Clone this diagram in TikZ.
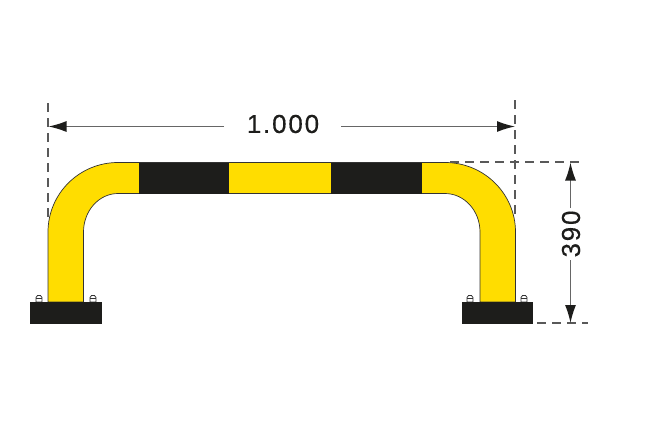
\documentclass[tikz,border=0pt]{standalone}
\usepackage{fontspec}
\setmainfont[LetterSpace=7,FakeBold=0.35]{Liberation Sans}
\usetikzlibrary{arrows.meta}
\definecolor{ty}{HTML}{FFDD00}
\definecolor{tk}{HTML}{1D1D1B}
\tikzset{
 halfdim/.style={draw=black!60,line width=1.3pt,-{Latex[length=18pt,width=11pt,color=tk]}},
 guide/.style={draw=black!65,line width=1.3pt,dash pattern=on 9pt off 6pt},
 tube/.style={fill=ty,draw=black!80,line width=.7pt},
 band/.style={fill=tk,draw=none},
 base/.style={fill=tk,draw=none},
 bolt/.style={fill=white,draw=black!80,line width=.8pt},
 lab/.style={font=\fontsize{26}{26}\selectfont,text=tk,inner sep=0pt}
}
\begin{document}
\begin{tikzpicture}[x=1pt,y=-1pt]
\useasboundingbox (0,0) rectangle (670,445);
\fill[white] (0,0) rectangle (670,445);
% tube
\path[tube] (48,302) -- (48,232) arc[start angle=180,end angle=270,x radius=70,y radius=69.5] -- (445,162.5)
 arc[start angle=270,end angle=360,x radius=70.5,y radius=69.5] -- (515.5,302) -- (480,302) -- (480,232)
 arc[start angle=0,end angle=-90,x radius=35,y radius=38.5] -- (118,193.5)
 arc[start angle=-90,end angle=-180,x radius=34.5,y radius=38.5] -- (83.5,302) -- cycle;
\path[band] (138.5,162.5) rectangle (229,193.5);
\path[band] (331,162.5) rectangle (422,193.5);
% bolts
\foreach \x in {39,93,470,524}{
 \path[bolt] (\x-3,302) -- (\x-3,297.5) -- (\x-1.5,295.5) -- (\x+1.5,295.5) -- (\x+3,297.5) -- (\x+3,302) -- cycle;
 \draw[black!80,line width=.7pt] (\x-3,298.5) -- (\x+3,298.5);
}
\path[base] (30,302) rectangle (102,323.5);
\path[base] (461.5,302) rectangle (533,323.5);
% guides
\coordinate (gl1) at (48,103); \coordinate (gl2) at (48,218);
\coordinate (gr1) at (515,100); \coordinate (gr2) at (515,218);
\coordinate (gt1) at (450,162); \coordinate (gt2) at (582,162);
\coordinate (gb1) at (537,323); \coordinate (gb2) at (588,323);
\draw[guide] (gl1) -- (gl2);
\draw[guide] (gr1) -- (gr2);
\draw[guide] (gt1) -- (gt2);
\draw[guide] (gb1) -- (gb2);
% labels
\node[lab] (w) at (283,124) {1.000};
\node[lab,rotate=90] (h) at (571,234) {390};
% dimension lines
\coordinate (al) at (48.5,126.5); \coordinate (ar) at (515,126.5);
\coordinate (at) at (570.5,162.5); \coordinate (ab) at (570.5,323);
\coordinate (wl) at (224,126.5); \coordinate (wr) at (341,126.5);
\coordinate (ht) at (570.5,208); \coordinate (hb) at (570.5,260);
\draw[halfdim] (wl) -- (al);
\draw[halfdim] (wr) -- (ar);
\draw[halfdim] (ht) -- (at);
\draw[halfdim] (hb) -- (ab);
\end{tikzpicture}
\end{document}
